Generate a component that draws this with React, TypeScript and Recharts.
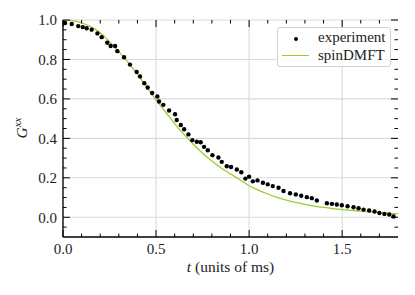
import { ComposedChart, Line, Scatter, XAxis, YAxis, CartesianGrid } from "recharts";

const FONT = '"Liberation Serif", "Times New Roman", serif';
const GREEN = "#9acd32";

// experiment: measured time (ms) and correlation
const expT = [
  0.011, 0.047, 0.082, 0.106, 0.127, 0.154, 0.185, 0.208, 0.238, 0.256, 0.28, 0.292, 0.328, 0.36,
  0.396, 0.414, 0.437, 0.455, 0.479, 0.507, 0.516, 0.539, 0.57, 0.602, 0.611, 0.633, 0.651, 0.674,
  0.695, 0.719, 0.74, 0.758, 0.778, 0.803, 0.835, 0.853, 0.88, 0.903, 0.934, 0.958, 0.98, 1.0, 1.02,
  1.045, 1.074, 1.1, 1.127, 1.158, 1.185, 1.22, 1.251, 1.28, 1.31, 1.337, 1.364, 1.418, 1.445, 1.471,
  1.498, 1.529, 1.561, 1.588, 1.615, 1.645, 1.674, 1.7, 1.727, 1.753, 1.776,
];
const expG = [
  0.985, 0.98, 0.969, 0.964, 0.958, 0.951, 0.932, 0.913, 0.885, 0.868, 0.868, 0.842, 0.811, 0.774,
  0.737, 0.714, 0.68, 0.658, 0.63, 0.612, 0.587, 0.57, 0.541, 0.522, 0.493, 0.468, 0.446, 0.42,
  0.391, 0.383, 0.38, 0.357, 0.34, 0.315, 0.303, 0.281, 0.259, 0.255, 0.242, 0.228, 0.196, 0.206, 0.182,
  0.187, 0.175, 0.167, 0.158, 0.15, 0.133, 0.122, 0.116, 0.109, 0.102, 0.097, 0.085, 0.071, 0.068, 0.065,
  0.061, 0.056, 0.051, 0.046, 0.039, 0.034, 0.029, 0.022, 0.017, 0.014, 0.004,
];

// spinDMFT curve
const modelT = [
  0, 0.05, 0.1, 0.15, 0.2, 0.25, 0.3, 0.35, 0.4, 0.45, 0.5, 0.55, 0.6, 0.65, 0.7, 0.75, 0.8, 0.85, 0.9,
  0.95, 1.0, 1.05, 1.1, 1.15, 1.2, 1.25, 1.3, 1.35, 1.4, 1.45, 1.5, 1.55, 1.6, 1.65, 1.7, 1.75, 1.8,
];
const modelG = [
  1.0, 0.997, 0.985, 0.965, 0.935, 0.89, 0.84, 0.785, 0.725, 0.66, 0.595, 0.535, 0.475, 0.42, 0.37,
  0.325, 0.285, 0.25, 0.22, 0.19, 0.16, 0.138, 0.118, 0.101, 0.087, 0.075, 0.065, 0.057, 0.05, 0.044,
  0.039, 0.035, 0.031, 0.027, 0.023, 0.02, 0.017,
];

const xMajor = [0, 0.5, 1.0, 1.5];
const xTicks = [0, 0.1, 0.2, 0.3, 0.4, 0.5, 0.6, 0.7, 0.8, 0.9, 1.0, 1.1, 1.2, 1.3, 1.4, 1.5, 1.6, 1.7];
const yMajor = [0, 0.2, 0.4, 0.6, 0.8, 1.0];
const yTicks = [
  -0.05, 0, 0.05, 0.1, 0.15, 0.2, 0.25, 0.3, 0.35, 0.4, 0.45, 0.5, 0.55, 0.6, 0.65, 0.7, 0.75, 0.8,
  0.85, 0.9, 0.95, 1.0,
];

const expData = expT.map((t, i) => ({ t, g: expG[i] }));
const modelData = modelT.map((t, i) => ({ t, g: modelG[i] }));

// plot frame (chart is fixed size)
const W = 415;
const H = 295;
const M = { top: 20, right: 17, bottom: 0, left: 0 };
const Y_AXIS_W = 63;
const X_AXIS_H = 58;
const PLOT_TOP = M.top;
const PLOT_RIGHT = W - M.right;

const isMajor = (list: number[], v: number) => list.some((m) => Math.abs(m - v) < 1e-9);
const axisLine = { stroke: "#000", strokeWidth: 1.3 };

const BottomTick = (p: any) => {
  const major = isMajor(xMajor, p.payload.value);
  const len = major ? 7 : 3.5;
  return (
    <g>
      <line x1={p.x} x2={p.x} y1={p.y} y2={p.y - len} stroke="#000" strokeWidth={1} />
      <line x1={p.x} x2={p.x} y1={PLOT_TOP} y2={PLOT_TOP + len} stroke="#000" strokeWidth={1} />
      {major && (
        <text x={p.x} y={p.y + 16.5} textAnchor="middle" fontFamily={FONT} fontSize={15} fill="#222">
          {p.payload.value.toFixed(1)}
        </text>
      )}
    </g>
  );
};

const LeftTick = (p: any) => {
  const major = isMajor(yMajor, p.payload.value);
  const len = major ? 7 : 3.5;
  return (
    <g>
      <line x1={p.x} x2={p.x + len} y1={p.y} y2={p.y} stroke="#000" strokeWidth={1} />
      <line x1={PLOT_RIGHT} x2={PLOT_RIGHT - len} y1={p.y} y2={p.y} stroke="#000" strokeWidth={1} />
      {major && (
        <text x={p.x - 6} y={p.y} dy="0.35em" textAnchor="end" fontFamily={FONT} fontSize={15} fill="#222">
          {p.payload.value.toFixed(1)}
        </text>
      )}
    </g>
  );
};

const Dot = (p: any) => <circle cx={p.cx} cy={p.cy} r={2.2} fill="#000" />;

export default function App() {
  return (
    <div style={{ position: "absolute", left: 0, top: 0, width: W, height: H, background: "#fff" }}>
      <ComposedChart width={W} height={H} margin={M}>
        <CartesianGrid horizontalValues={yMajor} verticalValues={xMajor} stroke="#dadada" strokeWidth={1.1} />
        <XAxis
          type="number"
          dataKey="t"
          domain={[0, 1.8]}
          allowDataOverflow
          ticks={xTicks}
          interval={0}
          height={X_AXIS_H}
          tickSize={0}
          tickMargin={0}
          tickLine={false}
          axisLine={axisLine}
          tick={(p: any) => <BottomTick {...p} />}
          label={{
            content: (lp: any) => (
              <text
                x={lp.viewBox.x + lp.viewBox.width / 2}
                y={lp.viewBox.y + 35}
                textAnchor="middle"
                fontFamily={FONT}
                fontSize={15.5}
                fill="#222"
              >
                <tspan fontStyle="italic">t</tspan> (units of ms)
              </text>
            ),
          }}
        />
        <XAxis
          xAxisId="top"
          orientation="top"
          type="number"
          dataKey="t"
          domain={[0, 1.8]}
          height={0}
          tick={false}
          tickLine={false}
          axisLine={axisLine}
        />
        <YAxis
          type="number"
          domain={[-0.1, 1.0]}
          allowDataOverflow
          ticks={yTicks}
          interval={0}
          width={Y_AXIS_W}
          tickSize={0}
          tickMargin={0}
          tickLine={false}
          axisLine={axisLine}
          tick={(p: any) => <LeftTick {...p} />}
          label={{
            content: (lp: any) => (
              <text
                transform={`translate(${lp.viewBox.x + 27}, ${lp.viewBox.y + 108}) rotate(-90)`}
                textAnchor="middle"
                fontFamily={FONT}
                fontSize={15.5}
                fill="#222"
              >
                <tspan fontStyle="italic">G</tspan>
                <tspan fontStyle="italic" fontSize={11} dy={-6}>xx</tspan>
              </text>
            ),
          }}
        />
        <YAxis
          yAxisId="right"
          orientation="right"
          type="number"
          domain={[-0.1, 1.0]}
          width={0}
          tick={false}
          tickLine={false}
          axisLine={axisLine}
        />
        <Line
          data={modelData}
          dataKey="g"
          type="monotone"
          stroke={GREEN}
          strokeWidth={1.3}
          dot={false}
          isAnimationActive={false}
        />
        <Scatter data={expData} dataKey="g" shape={<Dot />} isAnimationActive={false} />
      </ComposedChart>
      <div
        style={{
          position: "absolute",
          left: 277,
          top: 27,
          width: 112,
          height: 38,
          border: "1px solid #d0d0d0",
          borderRadius: 3,
          background: "rgba(255,255,255,0.85)",
          fontFamily: FONT,
          fontSize: 15,
          color: "#222",
        }}
      >
        <div style={{ position: "absolute", left: 16, top: 9, width: 4.4, height: 4.4, borderRadius: "50%", background: "#000" }} />
        <div style={{ position: "absolute", left: 40, top: 1, lineHeight: "17px" }}>experiment</div>
        <div style={{ position: "absolute", left: 4, top: 27, width: 27, height: 0, borderTop: `1.3px solid ${GREEN}` }} />
        <div style={{ position: "absolute", left: 40, top: 19, lineHeight: "17px" }}>spinDMFT</div>
      </div>
    </div>
  );
}
